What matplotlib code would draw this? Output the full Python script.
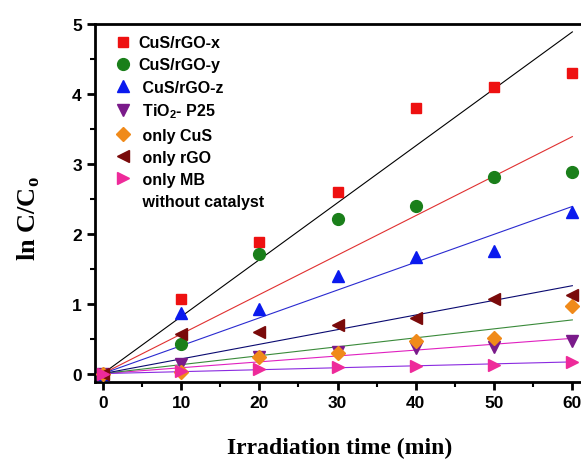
import numpy as np
import matplotlib
matplotlib.use("Agg")
import matplotlib.pyplot as plt
from matplotlib.lines import Line2D
from matplotlib.ticker import MultipleLocator

# ── Data ─────────────────────────────────────────────────────────────────────
time_min = [0, 10, 20, 30, 40, 50, 60]

cus_rgo_x = [0, 1.06, 1.88, 2.60, 3.80, 4.10, 4.30]
cus_rgo_y = [0, 0.43, 1.71, 2.21, 2.40, 2.81, 2.88]
cus_rgo_z = [0, 0.86, 0.93, 1.40, 1.67, 1.76, 2.31]
tio2_p25  = [0, 0.14, 0.24, 0.31, 0.36, 0.38, 0.46]
only_cus  = [0, 0.02, 0.24, 0.30, 0.47, 0.51, 0.97]
only_rgo  = [0, 0.57, 0.60, 0.69, 0.79, 1.07, 1.12]
only_mb   = [0, 0.04, 0.07, 0.10, 0.11, 0.12, 0.17]

labels = ["CuS/rGO-x", "CuS/rGO-y", " CuS/rGO-z", r" TiO$_\mathregular{2}$- P25",
          " only CuS", " only rGO", " only MB"]

# ── Styles ───────────────────────────────────────────────────────────────────
series = [cus_rgo_x, cus_rgo_y, cus_rgo_z, tio2_p25, only_cus, only_rgo, only_mb]
markers = ["s", "o", "^", "v", "D", "<", ">"]
mcolors = ["#ee1111", "#1a7f1a", "#0a1aee", "#7a1a8a", "#f08a1a", "#7a0a0a", "#ee2a9a"]
msizes = [7.5, 8.5, 9, 9, 7, 9, 9]
lcolors = ["black", "#e03030", "#2a2ad0", "#e020c0", "#3a8a3a", "#0a0a70", "#8a2ae0"]

plt.rcParams["font.family"] = ["Liberation Sans", "DejaVu Sans"]
plt.rcParams["font.weight"] = "bold"

fig = plt.figure(figsize=(5.81, 4.60), dpi=100)
ax = fig.add_axes([95 / 581, 77 / 460, 493 / 581, 358 / 460])

t = np.array(time_min, dtype=float)
t_fit = np.array([0.0, 60.0])
handles = []
for y, m, mc, ms, lc, lab in zip(series, markers, mcolors, msizes, lcolors, labels):
    y = np.array(y, dtype=float)
    k = np.sum(t * y) / np.sum(t * t)   # linear fit through origin
    ax.plot(t_fit, k * t_fit, color=lc, lw=0.8, zorder=2)
    h, = ax.plot(t, y, ls="none", marker=m, color=mc, ms=ms, mec=mc, zorder=3,
                 label=lab)
    handles.append(h)

handles.append(Line2D([], [], ls="none", marker=None))
labels_leg = labels + [" without catalyst"]

ax.set_xlim(-1, 62)
ax.set_ylim(-0.12, 5)
ax.xaxis.set_major_locator(MultipleLocator(10))
ax.xaxis.set_minor_locator(MultipleLocator(5))
ax.yaxis.set_major_locator(MultipleLocator(1))
ax.yaxis.set_minor_locator(MultipleLocator(0.5))
ax.tick_params(which="major", direction="out", length=6, width=2, labelsize=12.5)
ax.tick_params(which="minor", direction="out", length=3.5, width=1.5)
for lbl in ax.get_xticklabels() + ax.get_yticklabels():
    lbl.set_fontweight("bold")
for sp in ax.spines.values():
    sp.set_linewidth(2)

ax.set_xlabel("Irradiation time (min)", fontfamily="Liberation Serif",
              fontweight="bold", fontsize=17)
ax.set_ylabel(r"ln C/C$_\mathregular{o}$", fontfamily="Liberation Serif",
              fontweight="bold", fontsize=19)
ax.xaxis.set_label_coords(245 / 493, -55 / 358)
ax.yaxis.set_label_coords(-53 / 493, 164 / 358)

ax.legend(handles, labels_leg, loc="upper left", frameon=False, fontsize=11.5,
          handletextpad=0.2, labelspacing=0.45, borderaxespad=0.3,
          handlelength=1.5, bbox_to_anchor=(0.01, 1.0))

fig.savefig("out.png", dpi=100)
